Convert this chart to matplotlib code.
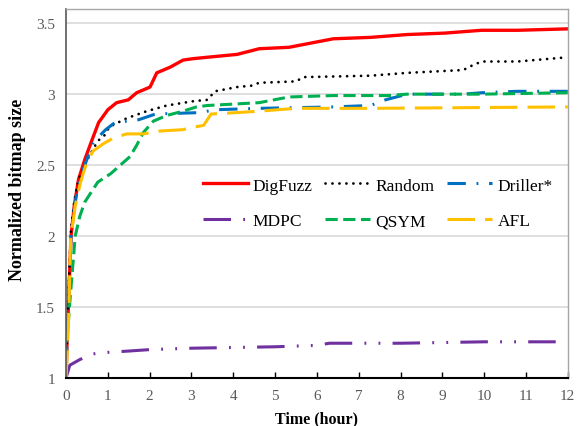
"""
Bitmap coverage growth over 12 hours for six fuzzers
"""
import matplotlib
matplotlib.use("Agg")
import matplotlib.pyplot as plt

# time (hour) and normalized bitmap size for each fuzzer
digfuzz_t = [0, 0.03, 0.06, 0.12, 0.2, 0.3, 0.45, 0.6, 0.78, 1.0, 1.21, 1.49, 1.69, 2.01, 2.17,
             2.49, 2.8, 3.04, 3.38, 4.09, 4.62, 5.33, 5.86, 6.39, 7.28, 8.16, 9.05, 9.94, 10.8, 12]
digfuzz_v = [1.0, 1.3, 1.53, 2.0, 2.22, 2.4, 2.54, 2.66, 2.8, 2.89, 2.94, 2.96, 3.01, 3.05, 3.15,
             3.19, 3.24, 3.25, 3.26, 3.28, 3.32, 3.33, 3.36, 3.39, 3.40, 3.42, 3.43, 3.45, 3.45, 3.46]

random_t = [0, 0.03, 0.06, 0.12, 0.2, 0.3, 0.45, 0.53, 0.76, 0.92, 1.04, 1.45, 1.93, 2.41, 3.04,
            3.38, 3.56, 4.09, 4.44, 4.62, 5.5, 5.68, 7.28, 8.16, 9.5, 9.7, 9.94, 10.8, 12]
random_v = [1.0, 1.35, 1.6, 2.05, 2.25, 2.4, 2.5, 2.55, 2.67, 2.71, 2.77, 2.83, 2.88, 2.92, 2.95,
            2.96, 3.02, 3.05, 3.06, 3.08, 3.09, 3.12, 3.13, 3.15, 3.17, 3.2, 3.23, 3.23, 3.26]

driller_t = [0, 0.03, 0.06, 0.12, 0.2, 0.3, 0.45, 0.65, 0.95, 1.17, 1.74, 2.14, 3.2, 3.56, 4.62,
             6.39, 7.28, 7.64, 8.16, 9.5, 9.94, 10.8, 12]
driller_v = [1.0, 1.3, 1.55, 2.0, 2.2, 2.38, 2.5, 2.66, 2.75, 2.8, 2.82, 2.86, 2.87, 2.89, 2.9,
             2.91, 2.92, 2.96, 3.0, 3.0, 3.01, 3.02, 3.02]

mdpc_t = [0, 0.09, 0.33, 0.65, 0.96, 1.5, 2.0, 3.0, 4.0, 5.0, 6.0, 6.3, 8.0, 9.0, 10.0, 12]
mdpc_v = [1.0, 1.09, 1.13, 1.17, 1.18, 1.19, 1.2, 1.21, 1.215, 1.22, 1.23, 1.245, 1.245, 1.25,
          1.255, 1.255]

qsym_t = [0, 0.02, 0.09, 0.22, 0.33, 0.45, 0.76, 1.07, 1.53, 1.69, 1.85, 2.09, 2.41, 2.8, 3.12,
          3.38, 4.62, 5.33, 6.39, 7.72, 8.16, 9.94, 12]
qsym_v = [1.0, 1.25, 1.53, 2.0, 2.14, 2.24, 2.38, 2.44, 2.56, 2.64, 2.73, 2.81, 2.85, 2.88, 2.91,
          2.92, 2.94, 2.98, 2.99, 2.99, 3.0, 3.0, 3.01]

afl_t = [0, 0.06, 0.11, 0.22, 0.33, 0.41, 0.5, 0.65, 0.89, 1.13, 1.45, 1.85, 2.25, 2.8, 2.92,
         3.29, 3.47, 4.09, 4.62, 5.5, 7.28, 12]
afl_v = [1.0, 1.39, 1.98, 2.21, 2.36, 2.44, 2.52, 2.60, 2.65, 2.69, 2.72, 2.72, 2.74, 2.75, 2.76,
         2.78, 2.86, 2.87, 2.88, 2.90, 2.90, 2.91]

plt.rcParams['font.family'] = ['Liberation Serif', 'DejaVu Serif']

fig = plt.figure(figsize=(5.77, 4.27), dpi=100)
ax = fig.add_axes([0.1144, 0.1124, 0.8696, 0.8642])

lines = {}
lines['DigFuzz'] = ax.plot(digfuzz_t, digfuzz_v, color='#FF0000', lw=2.4, label='DigFuzz')[0]
lines['Random'] = ax.plot(random_t, random_v, color='black', lw=2.0,
                          linestyle=(0, (0.01, 2.5)), dash_capstyle='round', label='Random')[0]
lines['Driller*'] = ax.plot(driller_t, driller_v, color='#0070C0', lw=2.2,
                            linestyle=(0, (6, 3.5, 0.6, 3.5)), label='Driller*')[0]
lines['MDPC'] = ax.plot(mdpc_t, mdpc_v, color='#7030A0', lw=2.2,
                        linestyle=(0, (9, 4, 0.6, 4, 0.6, 4)), label='MDPC')[0]
lines['QSYM'] = ax.plot(qsym_t, qsym_v, color='#00B050', lw=2.2,
                        linestyle=(0, (4, 1.8)), label='QSYM')[0]
lines['AFL'] = ax.plot(afl_t, afl_v, color='#FFC000', lw=2.2,
                       linestyle=(0, (9, 3.3)), label='AFL')[0]

ax.set_xlim(0, 12)
ax.set_ylim(1, 3.6)
ax.set_xticks(range(0, 13))
ax.set_yticks([1, 1.5, 2, 2.5, 3, 3.5])
ax.set_yticklabels(['1', '1.5', '2', '2.5', '3', '3.5'])
ax.grid(axis='y', color='#D9D9D9', lw=1.2)
ax.set_axisbelow(True)

ax.tick_params(axis='x', direction='in', length=4, width=1, colors='black',
               labelcolor='#595959', labelsize=11, pad=8)
ax.tick_params(axis='y', length=0, labelcolor='#595959', labelsize=11, pad=8)

ax.spines['bottom'].set_color('black')
ax.spines['bottom'].set_linewidth(1.5)
ax.spines['left'].set_color('#595959')
ax.spines['left'].set_linewidth(1.2)
for side in ['top', 'right']:
    ax.spines[side].set_color('#A6A6A6')
    ax.spines[side].set_linewidth(1.0)

ax.set_xlabel('Time (hour)', fontsize=11.5, fontweight='bold', labelpad=6)
ax.set_ylabel('Normalized bitmap size', fontsize=13, fontweight='bold')
ax.yaxis.set_label_coords(-0.08, 0.512)

order = ['DigFuzz', 'MDPC', 'Random', 'QSYM', 'Driller*', 'AFL']
ax.legend([lines[k] for k in order], order, ncol=3, frameon=False, fontsize=12.5,
          loc='upper left', bbox_to_anchor=(0.241, 0.586), handlelength=2.6,
          handletextpad=0.3, columnspacing=0.72, labelspacing=1.13)

fig.savefig('out.png', dpi=100)
